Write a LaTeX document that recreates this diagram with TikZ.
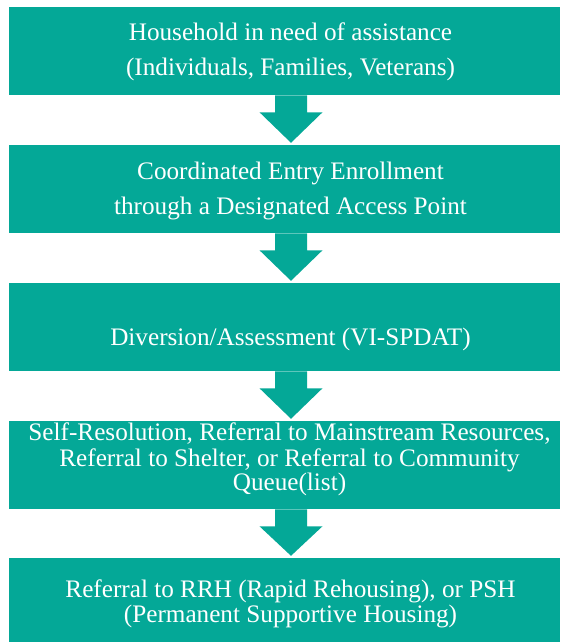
\documentclass[tikz,border=0pt]{standalone}
\usepackage{fontspec}
\setmainfont{Liberation Serif}
\usetikzlibrary{calc}
\definecolor{teal1}{RGB}{4,168,151}
\begin{document}
\begin{tikzpicture}[x=1pt,y=-1pt,
  box/.style={fill=teal1, inner sep=0pt, outer sep=0pt, minimum width=550.7pt, minimum height=88pt, anchor=north west},
  txt/.style={text=white, inner sep=0pt, anchor=base, font=\fontsize{25.2}{29}\selectfont}]
\useasboundingbox (0,0) rectangle (560,642);
\coordinate (cx) at (291,0);
\node[box] (b1) at (9.3,7.3) {};
\node[box] (b2) at (9.3,145.3) {};
\node[box] (b3) at (9.3,283.3) {};
\node[box] (b4) at (9.3,421.3) {};
\node[box, minimum height=84pt] (b5) at (9.3,558.3) {};
\foreach \a/\b in {b1/b2,b2/b3,b3/b4,b4/b5}
  \fill[teal1] ($(\a.south -| cx)+(-16,0)$) -- ($(\a.south -| cx)+(16,0)$)
    -- ($(\a.south -| cx)+(16,17)$) -- ($(\a.south -| cx)+(31.5,17)$)
    -- ($(\b.north -| cx)+(0,-2.5)$)
    -- ($(\a.south -| cx)+(-31.5,17)$) -- ($(\a.south -| cx)+(-16,17)$) -- cycle;
\node[txt] (t1a) at (290.5,41) {Household in need of assistance};
\node[txt] (t1b) at (290.5,75.5) {(Individuals, Families, Veterans)};
\node[txt] (t2a) at (290.5,179) {Coordinated Entry Enrollment};
\node[txt] (t2b) at (290.5,214) {through a Designated Access Point};
\node[txt] (t3a) at (290.5,345.7) {Diversion/Assessment (VI-SPDAT)};
\node[txt] (t4a) at (289.5,440.7) {Self-Resolution, Referral to Mainstream Resources,};
\node[txt] (t4b) at (289.5,466) {Referral to Shelter, or Referral to Community};
\node[txt] (t4c) at (289.5,490) {Queue(list)};
\node[txt] (t5a) at (290.5,597) {Referral to RRH (Rapid Rehousing), or PSH};
\node[txt] (t5b) at (290.5,622.7) {(Permanent Supportive Housing)};
\end{tikzpicture}
\end{document}
